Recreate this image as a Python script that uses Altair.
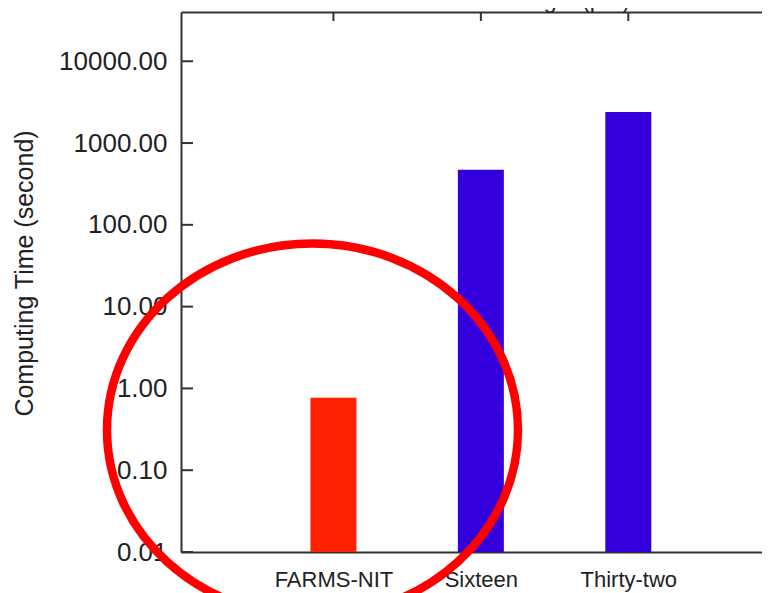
import altair as alt
import pandas as pd

# ---- data ----
categories = ["FARMS-NIT", "Sixteen", "Thirty-two"]
positions = [1, 2, 3]
times = [0.77, 470.0, 2400.0]          # computing time (s)
bar_colors = ["#ff2200", "#3300dd", "#3300dd"]
baseline = 0.01
y_ticks = [0.01, 0.1, 1, 10, 100, 1000, 10000]

df = pd.DataFrame({
    "cat": categories,
    "pos": positions,
    "time": times,
    "base": [baseline] * len(categories),
    "color": bar_colors,
})
ticks_df = pd.DataFrame({"time": y_ticks})
note_df = pd.DataFrame({"n": [0]})

FONT = "Liberation Sans"
INK = "#222222"

xscale = alt.Scale(domain=[0, 3.873], nice=False, zero=False)
yscale = alt.Scale(type="log", domain=[0.01, 40000], nice=False)

label_expr = " : ".join(
    f"datum.value == {p} ? '{c}'" for p, c in zip(positions, categories)
) + " : ''"

y_axis = alt.Axis(values=y_ticks, format=".2f", ticks=False, grid=False,
                  labelPadding=14, labelFontSize=26, labelFont=FONT,
                  labelColor=INK, labelFlush=False,
                  title="Computing Time (second)", titleFont=FONT,
                  titleFontSize=25, titleFontWeight="normal",
                  titleColor=INK, titleBaseline="alphabetic",
                  titleX=-149, titleY=261)

bars = alt.Chart(df).mark_bar(size=46).encode(
    x=alt.X("pos:Q", scale=xscale,
            axis=alt.Axis(orient="bottom", values=positions, labelExpr=label_expr,
                          ticks=False, grid=False, title=None, labelPadding=34,
                          labelBaseline="alphabetic", labelFontSize=22,
                          labelFont=FONT, labelColor=INK, labelFlush=False)),
    y=alt.Y("time:Q", scale=yscale, axis=y_axis),
    y2="base:Q",
    color=alt.Color("color:N", scale=None),
)

top_ticks = alt.Chart(df).mark_rule(color="#333333", strokeWidth=2).encode(
    x=alt.X("pos:Q", scale=xscale,
            axis=alt.Axis(orient="top", labels=False, ticks=False, grid=False,
                          title="Wavelength (μm)", titleFont=FONT,
                          titleFontSize=23, titleFontWeight="normal",
                          titleColor=INK, titleBaseline="alphabetic",
                          titleY=-5, titleX=361)),
    y=alt.value(0),
    y2=alt.value(9),
)

y_tick_marks = alt.Chart(ticks_df).mark_rule(color="#333333", strokeWidth=2).encode(
    y=alt.Y("time:Q", scale=yscale, axis=y_axis),
    x=alt.value(0),
    x2=alt.value(12),
)

ellipse_path = "M -1 0 A 1 0.9075 0 1 0 1 0 A 1 0.9075 0 1 0 -1 0 Z"
circle = alt.Chart(note_df).mark_point(
    shape=ellipse_path, size=168921, filled=False,
    stroke="#ff0000", strokeWidth=8.5, opacity=1,
).encode(
    x=alt.value(131.5),
    y=alt.value(418),
)

chart = alt.layer(bars, top_ticks, y_tick_marks, circle).resolve_axis(
    x="independent"
).properties(
    width=581,
    height=540,
    autosize=alt.AutoSizeParams(type="none"),
    padding={"left": 173, "top": 4, "right": 0, "bottom": 42},
    background="white",
).configure_view(
    stroke=None,
).configure_axis(
    domainColor="#333333",
    domainWidth=2,
)

chart.save("out.html", embed_options={"renderer": "svg", "actions": False})
